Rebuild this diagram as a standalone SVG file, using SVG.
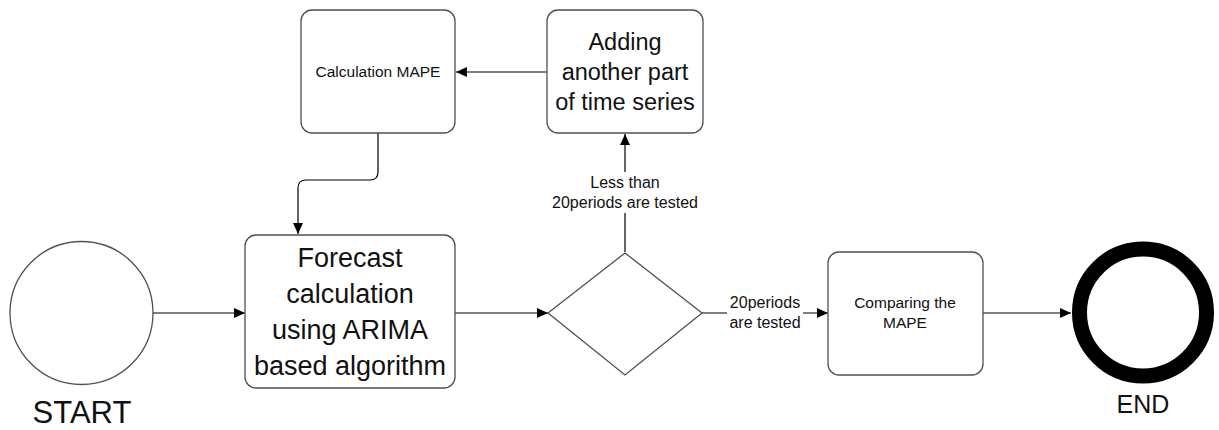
<svg xmlns="http://www.w3.org/2000/svg" width="1219" height="430" viewBox="0 0 1219 430">
<style>
.box{fill:#fff;stroke:#505050;stroke-width:1.3}
.edge{fill:none;stroke:#000;stroke-width:1.2}
text{font-family:"Liberation Sans",Arial,sans-serif;fill:#111;text-anchor:middle}
.big{font-size:27px}
.mid{font-size:23.5px}
.sm{font-size:15.5px}
.lbl{font-size:16px}
</style>
<defs>
<marker id="arr" viewBox="0 0 10 10" refX="10" refY="5" markerWidth="11" markerHeight="11" markerUnits="userSpaceOnUse" orient="auto">
<path d="M0,0.5 L10,5 L0,9.5 Z" fill="#000"/>
</marker>
</defs>
<g id="connectors">
<line class="edge" x1="153" y1="313" x2="245" y2="313" marker-end="url(#arr)"/>
<line class="edge" x1="455" y1="313" x2="548" y2="313" marker-end="url(#arr)"/>
<line class="edge" x1="702" y1="313" x2="828" y2="313" marker-end="url(#arr)"/>
<line class="edge" x1="983" y1="313" x2="1071" y2="313" marker-end="url(#arr)"/>
<line class="edge" x1="625" y1="252" x2="625" y2="134" marker-end="url(#arr)"/>
<line class="edge" x1="547" y1="72" x2="456" y2="72" marker-end="url(#arr)"/>
<path class="edge" d="M378,133 V172 Q378,180 370,180 H306 Q298,180 298,188 V234" marker-end="url(#arr)"/>
<rect x="578" y="172" width="94" height="41" fill="#fff"/>
<text class="lbl" x="625" y="188">Less than</text>
<text class="lbl" x="625" y="208">20periods are tested</text>
<rect x="727" y="294" width="76" height="40" fill="#fff"/>
<text class="lbl" x="765" y="308">20periods</text>
<text class="lbl" x="765" y="328">are tested</text>
</g>
<g id="start">
<circle cx="81.5" cy="313" r="71.5" fill="#fff" stroke="#505050" stroke-width="1.3"/>
<text x="82" y="423" style="font-size:31px">START</text>
</g>
<g id="forecast">
<rect class="box" x="245" y="235" width="210" height="153" rx="11"/>
<text class="big" x="350" y="267">Forecast</text>
<text class="big" x="350" y="303">calculation</text>
<text class="big" x="350" y="339">using ARIMA</text>
<text class="big" x="350" y="375">based algorithm</text>
</g>
<g id="calcmape">
<rect class="box" x="301" y="10" width="154" height="123" rx="11"/>
<text class="sm" x="378" y="77">Calculation MAPE</text>
</g>
<g id="adding">
<rect class="box" x="547" y="10" width="156" height="123" rx="11"/>
<text class="mid" x="625" y="50">Adding</text>
<text class="mid" x="625" y="80">another part</text>
<text class="mid" x="625" y="110">of time series</text>
</g>
<g id="decision">
<polygon points="625,253 702,313 625,375 548,313" fill="#fff" stroke="#505050" stroke-width="1.3"/>
</g>
<g id="comparing">
<rect class="box" x="828" y="252" width="155" height="123" rx="11"/>
<text class="sm" x="905" y="308">Comparing the</text>
<text class="sm" x="905" y="328">MAPE</text>
</g>
<g id="end">
<circle cx="1143" cy="312.5" r="63.5" fill="#fff" stroke="#000" stroke-width="15"/>
<text x="1143" y="413" style="font-size:25px">END</text>
</g>
</svg>
